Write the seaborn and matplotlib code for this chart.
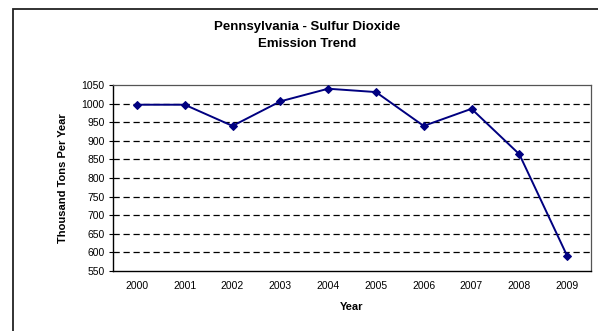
import matplotlib
matplotlib.use("Agg")
import matplotlib.pyplot as plt
import seaborn as sns
import pandas as pd
from matplotlib.patches import Rectangle

years = ["2000", "2001", "2002", "2003", "2004", "2005", "2006", "2007", "2008", "2009"]
emissions = [997, 997, 940, 1006, 1040, 1031, 940, 986, 864, 591]
y_ticks = [550, 600, 650, 700, 750, 800, 850, 900, 950, 1000, 1050]

sns.set_theme(style="white")
plt.rcParams['font.family'] = ['Liberation Sans', 'DejaVu Sans']
plt.rcParams.update({"text.color": "black", "axes.labelcolor": "black",
                     "xtick.color": "black", "ytick.color": "black"})

df = pd.DataFrame({"idx": range(len(years)), "value": emissions})

W, H = 598, 331
fig = plt.figure(figsize=(W / 100, H / 100), dpi=100)
ax = fig.add_axes([113/W, 60/H, 478/W, 186/H])

# outer chart frame (top and left visible)
fig.patches.append(Rectangle((12.5/W, -0.1), 1.2, (H-8.5)/H + 0.1,
                             transform=fig.transFigure, fill=False,
                             edgecolor="#222222", linewidth=1.3, zorder=0))

for yt in y_ticks[1:-1]:
    ax.axhline(yt, color="black", linestyle=(0, (5, 3)), linewidth=0.9, zorder=1)

sns.lineplot(data=df, x="idx", y="value", ax=ax, color="#000080", linewidth=1.4,
             marker="D", markersize=4, markeredgecolor="#000080", zorder=3)

ax.set_xlim(-0.5, len(years) - 0.5)
ax.set_ylim(550, 1050)
ax.set_yticks(y_ticks)
ax.set_yticklabels([str(v) for v in y_ticks], fontsize=7.5)
ax.set_xticks(range(len(years)))
ax.set_xticklabels(years, fontsize=7.5)
ax.set_xticks([i - 0.5 for i in range(len(years) + 1)], minor=True)
ax.tick_params(axis="x", which="major", length=0, pad=7)
ax.tick_params(axis="x", which="minor", length=3, width=0.8, color="black", direction="out")
ax.tick_params(axis="y", which="major", length=3, width=0.8, color="black", direction="out", pad=3, left=True)

for s in ["left", "bottom"]:
    ax.spines[s].set_color("black")
    ax.spines[s].set_linewidth(1.0)
for s in ["top", "right"]:
    ax.spines[s].set_color("#555555")
    ax.spines[s].set_linewidth(0.9)

ax.set_xlabel("")
ax.set_ylabel("")
fig.text(352/W, 1 - 307/H, "Year", ha="center", va="center",
         fontsize=8, fontweight="bold")
fig.text(63/W, 1 - 178/H, "Thousand Tons Per Year", ha="center", va="center",
         rotation=90, fontsize=8, fontweight="bold")

fig.text(307/W, 1 - 27/H, "Pennsylvania - Sulfur Dioxide",
         ha="center", va="center", fontsize=9.5, fontweight="bold")
fig.text(307/W, 1 - 44/H, "Emission Trend",
         ha="center", va="center", fontsize=9.5, fontweight="bold")

fig.savefig("out.png", dpi=100)
